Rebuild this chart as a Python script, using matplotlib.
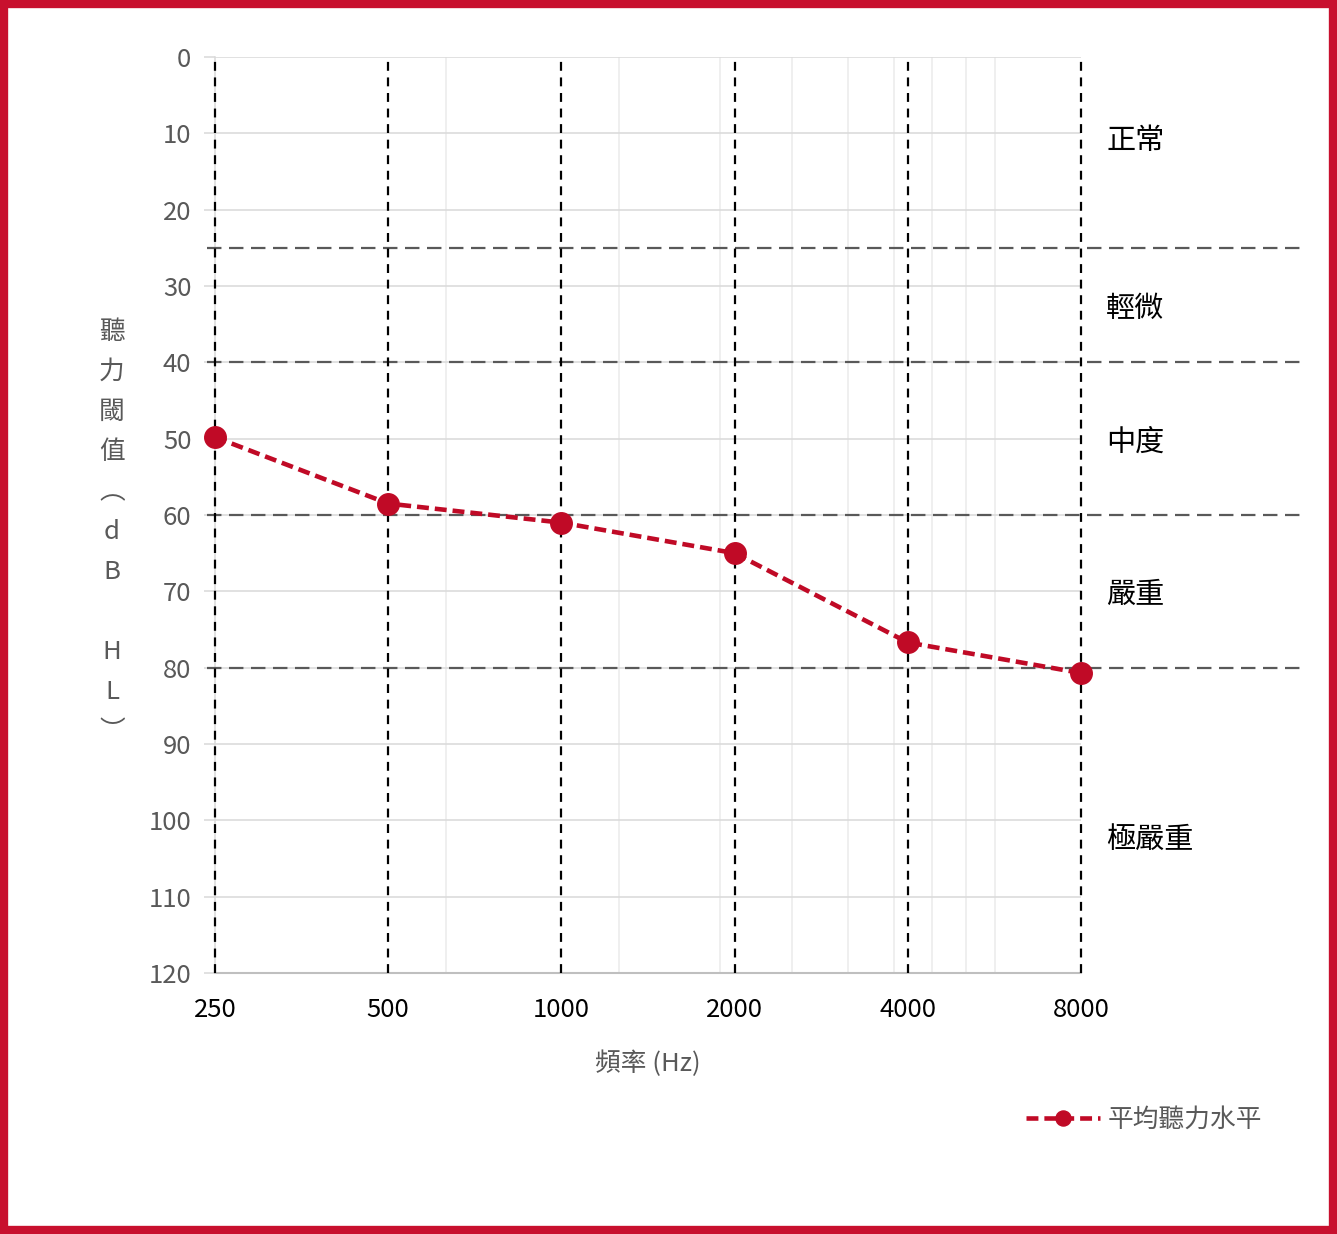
import matplotlib.pyplot as plt
import matplotlib.transforms as mtransforms
from matplotlib.patches import Rectangle
import numpy as np

plt.rcParams['font.family'] = ['Noto Sans CJK TC', 'DejaVu Sans']

# data
freqs = [250, 500, 1000, 2000, 4000, 8000]
freq_labels = ['250', '500', '1000', '2000', '4000', '8000']
hearing = [49.8, 58.5, 61.0, 65.0, 76.7, 80.7]
band_limits = [25, 40, 60, 80]
band_names = ['正常', '輕微', '中度', '嚴重', '極嚴重']
band_label_y = [11, 33, 50.5, 70.5, 102.5]

red = '#C00A26'
grey_txt = '#595959'

fig = plt.figure(figsize=(13.37, 12.34), dpi=100)
ax = fig.add_axes([0.1608, 0.2115, 0.6477, 0.7423])

ax.set_xscale('log')
ax.set_xlim(250, 8000)
ax.set_ylim(120, 0)

# light gridlines
ax.set_yticks(np.arange(0, 121, 10))
ax.yaxis.grid(True, color='#D9D9D9', lw=1.1)
ax.set_xticks(freqs)
ax.set_xticklabels(freq_labels)
ax.xaxis.set_minor_locator(plt.FixedLocator(630 * np.arange(1, 10)))
ax.xaxis.set_minor_formatter(plt.NullFormatter())
ax.xaxis.grid(True, which='minor', color='#EBEBEB', lw=1.1)
ax.set_axisbelow(True)

ax.tick_params(axis='y', length=8, width=1.1, color='#D9D9D9', labelsize=18.5,
               labelcolor=grey_txt, pad=9)
ax.tick_params(axis='x', which='major', length=0, labelsize=18.5, labelcolor='black', pad=17)
ax.tick_params(axis='x', which='minor', length=0)

for s in ['top', 'right']:
    ax.spines[s].set_visible(False)
ax.spines['left'].set_color('#D9D9D9')
ax.spines['left'].set_linewidth(1.1)
ax.spines['bottom'].set_color('#BFBFBF')
ax.spines['bottom'].set_linewidth(1.5)

# frequency lines
for f in freqs:
    ax.axvline(f, color='black', lw=1.6, linestyle=(0, (4, 3)), zorder=3, clip_on=False)

# severity band boundaries
for b in band_limits:
    ax.axhline(b, xmin=-0.009, xmax=1.255, color=grey_txt, lw=1.6,
               linestyle=(0, (6.5, 3.4)), clip_on=False, zorder=2.8)

trans = mtransforms.blended_transform_factory(ax.transAxes, ax.transData)
for name, yy in zip(band_names, band_label_y):
    ax.text(1.029, yy, name, transform=trans, ha='left', va='center',
            fontsize=21, color='black')

ax.plot(freqs, hearing, color=red, lw=3.3, linestyle=(0, (2.6, 1.3)),
        marker='o', markersize=15.5, label='平均聽力水平', zorder=4, clip_on=False)

ax.set_xlabel('頻率 (Hz)', fontsize=18.5, color=grey_txt, labelpad=20)

fig.text(0.0838, 0.569, '聽\n力\n閾\n值\n︵\nd\nB\n \nH\nL\n︶', ha='center', va='center',
         fontsize=18.5, color=grey_txt, linespacing=1.7)

fig.legend(loc='center right', bbox_to_anchor=(0.961, 0.0924), frameon=False,
           fontsize=18.5, handlelength=2.85, markerscale=0.7, labelcolor=grey_txt,
           handletextpad=0.3)

fig.patches.append(Rectangle((0.003, 0.003), 0.994, 0.994, transform=fig.transFigure,
                             fill=False, edgecolor='#C8102E', lw=6))

fig.savefig('out.png', dpi=100)
